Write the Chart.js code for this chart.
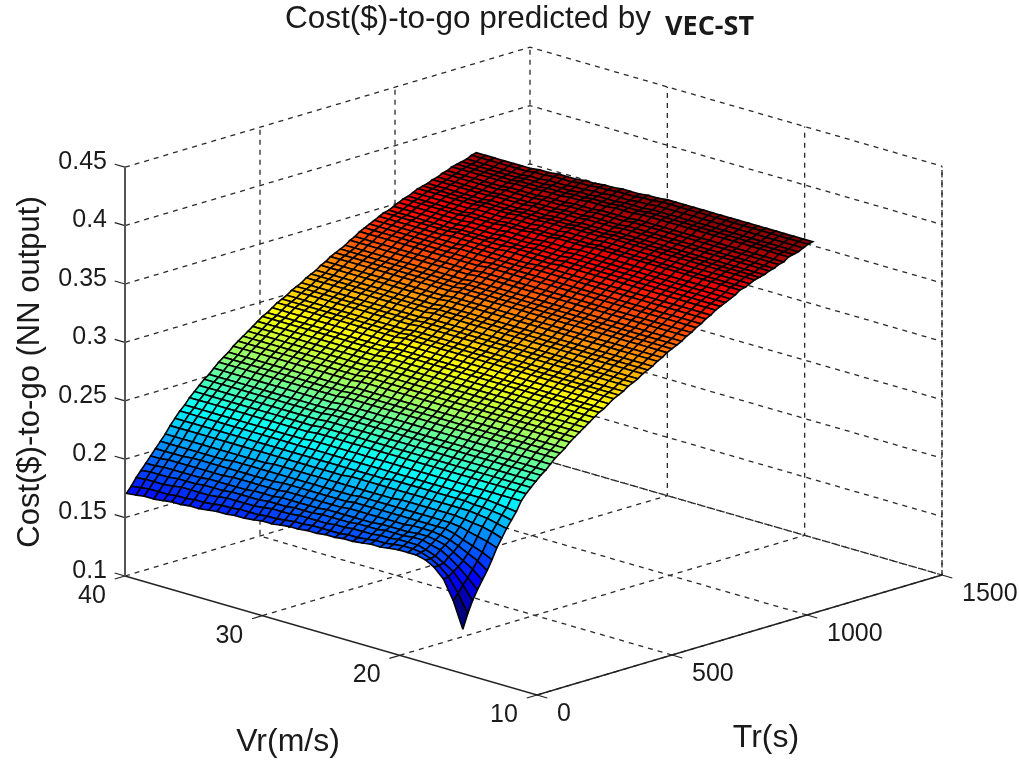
<!DOCTYPE html>
<html>
<head>
<meta charset="utf-8">
<style>
  html, body { margin: 0; padding: 0; background: #fff; }
  canvas { display: block; filter: blur(0.5px); }
</style>
<script src="https://cdn.jsdelivr.net/npm/chart.js@4/dist/chart.umd.min.js"></script>
</head>
<body>
<canvas id="chart" width="1019" height="761"></canvas>
<script>
const vrTicks = [40, 30, 20, 10];
const trTicks = [0, 500, 1000, 1500];
const zTicks = [0.1, 0.15, 0.2, 0.25, 0.3, 0.35, 0.4, 0.45];

const vrValues = [15.4,16.1,16.8,17.5,18.1,18.8,19.4,20.1,20.8,21.4,22.1,22.7,23.4,24.1,24.7,25.4,26,26.7,27.4,28,28.7,29.3,30,30.6,31.3,32,32.6,33.3,33.9,34.6,35.3,35.9,36.6,37.2,37.9,38.6,39.2,39.9];
const trValues = [0,18,36,54,72,90,108,126,144,162,180,198,216,234,252,270,288,306,324,342,360,378,396,414,432,450,468,486,504,522,540,558,576,594,612,630,648,666,684,702,720,738,756,774,792,810,828,846,864,882,900,918,936,954,972,990,1008,1026,1044,1062,1080,1098,1116,1134,1152,1170,1188,1206,1224,1242,1260,1278,1296];

// cost in thousandths, one row per Tr, one column per Vr
const costRows = [
[138,160,176,184,188,190,190,190,189,188,188,187,186,186,185,185,184,184,183,183,182,181,181,180,179,179,178,178,177,176,176,175,175,174,173,173,172,171],
[150,165,177,184,188,191,192,192,191,190,190,189,188,188,187,187,187,187,186,186,185,184,184,183,183,183,182,182,181,180,180,179,179,178,178,178,177,176],
[160,171,180,185,189,192,194,194,194,193,193,192,192,192,191,191,190,190,190,190,189,189,189,188,187,187,187,187,186,185,185,185,185,184,183,183,183,182],
[168,176,183,189,193,195,197,197,196,196,196,195,195,195,194,194,194,194,193,193,193,192,192,192,191,191,191,191,190,190,190,189,189,189,188,188,188,187],
[175,182,187,192,196,198,199,199,198,198,198,198,197,197,197,197,197,197,196,196,196,196,196,195,195,195,194,194,194,194,194,193,193,193,193,193,192,192],
[182,188,192,196,199,201,202,202,202,201,201,201,201,201,201,201,200,200,200,200,200,200,200,199,199,199,199,199,199,198,198,198,198,198,198,198,197,197],
[190,194,197,200,203,205,205,205,205,205,205,205,205,205,205,205,204,204,204,204,204,204,204,204,203,203,203,203,203,203,203,203,203,203,202,202,202,202],
[199,202,204,206,208,209,209,209,209,209,209,209,209,209,209,209,208,208,208,208,208,208,208,208,208,208,208,208,208,208,207,207,207,207,207,207,207,207],
[206,209,211,212,213,214,214,214,214,214,214,214,213,213,213,213,213,213,213,213,213,213,213,213,213,213,212,212,212,212,212,212,212,212,212,212,212,212],
[213,215,217,218,219,219,219,219,219,219,219,219,219,219,219,219,219,219,218,218,218,218,218,218,218,218,218,218,218,218,218,218,218,218,218,218,218,218],
[219,221,222,223,223,224,224,224,224,224,224,224,224,224,223,223,223,223,223,223,223,223,223,223,223,223,223,223,223,223,223,223,223,223,223,223,223,223],
[225,226,227,228,228,228,228,228,228,228,228,228,228,228,228,228,228,228,228,228,228,228,228,228,228,228,228,228,228,228,228,228,228,228,228,228,228,228],
[233,233,233,233,233,233,233,233,233,233,233,233,233,233,233,233,233,233,233,233,233,233,233,233,232,232,232,232,232,232,232,232,232,232,232,232,232,232],
[238,238,238,238,238,238,238,238,238,238,238,238,238,238,238,238,238,238,238,238,238,238,238,238,237,237,237,237,237,237,237,237,237,237,237,237,237,237],
[242,242,242,242,242,242,242,242,242,242,242,242,242,242,242,242,242,242,242,242,242,242,242,242,241,241,241,241,241,241,241,241,241,241,241,241,241,241],
[246,246,246,246,246,246,246,246,246,246,246,246,246,246,246,246,246,246,246,246,246,246,246,246,245,245,245,245,245,245,245,245,245,245,245,245,245,245],
[250,250,250,250,250,250,250,250,250,250,250,250,250,250,250,250,250,250,250,250,250,250,250,250,249,249,249,249,249,249,249,249,249,249,249,249,249,249],
[253,253,253,253,253,253,253,253,253,253,253,253,253,253,253,253,253,253,253,253,253,253,253,253,252,252,252,252,252,252,252,252,252,252,252,252,252,252],
[257,257,257,257,257,257,257,257,257,257,257,257,257,257,257,257,257,257,257,257,257,257,257,257,256,256,256,256,256,256,256,256,256,256,256,256,256,256],
[261,261,261,261,261,261,261,261,261,261,261,261,261,261,261,261,261,261,261,261,261,261,261,261,260,260,260,260,260,260,260,260,260,260,260,260,260,260],
[264,264,264,264,264,264,264,264,264,264,264,264,264,264,264,264,264,264,264,264,264,264,264,264,263,263,263,263,263,263,263,263,263,263,263,263,263,263],
[267,267,267,267,267,267,267,267,267,267,267,267,267,267,267,267,267,267,267,267,267,267,267,267,266,266,266,266,266,266,266,266,266,266,266,266,266,266],
[271,271,271,271,271,271,271,271,271,271,271,271,271,271,271,271,271,271,271,271,271,271,271,271,270,270,270,270,270,270,270,270,270,270,270,270,270,270],
[274,274,274,274,274,274,274,274,274,274,274,274,274,274,274,274,274,274,274,274,274,274,274,274,273,273,273,273,273,273,273,273,273,273,273,273,273,273],
[277,277,277,277,277,277,277,277,277,277,277,277,277,277,277,277,277,277,277,277,277,277,277,277,276,276,276,276,276,276,276,276,276,276,276,276,276,276],
[280,280,280,280,280,280,280,280,280,280,280,280,280,280,280,280,280,280,280,280,280,280,280,280,279,279,279,279,279,279,279,279,279,279,279,279,279,279],
[283,283,283,283,283,283,283,283,283,283,283,283,283,283,283,283,283,283,283,283,283,283,283,283,282,282,282,282,282,282,282,282,282,282,282,282,282,282],
[286,286,286,286,286,286,286,286,286,286,286,286,286,286,286,286,286,286,286,286,286,286,286,286,285,285,285,285,285,285,285,285,285,285,285,285,285,285],
[289,289,289,289,289,289,289,289,289,289,289,289,289,289,289,289,289,289,289,289,289,289,289,289,288,288,288,288,288,288,288,288,288,288,288,288,288,288],
[291,291,291,291,291,291,291,291,291,291,291,291,291,291,291,291,291,291,291,291,291,291,291,291,290,290,290,290,290,290,290,290,290,290,290,290,290,290],
[294,294,294,294,294,294,294,294,294,294,294,294,294,294,294,294,294,294,294,294,294,294,294,294,293,293,293,293,293,293,293,293,293,293,293,293,293,293],
[297,297,297,297,297,297,297,297,297,297,297,297,297,297,297,297,297,297,297,297,297,297,297,297,296,296,296,296,296,296,296,296,296,296,296,296,296,296],
[299,299,299,299,299,299,299,299,299,299,299,299,299,299,299,299,299,299,299,299,299,299,299,299,298,298,298,298,298,298,298,298,298,298,298,298,298,298],
[301,301,301,301,301,301,301,301,301,301,301,301,301,301,301,301,301,301,301,301,301,301,301,301,300,300,300,300,300,300,300,300,300,300,300,300,300,300],
[304,304,304,304,304,304,304,304,304,304,304,304,304,304,304,304,304,304,304,304,304,304,304,304,303,303,303,303,303,303,303,303,303,303,303,303,303,303],
[306,306,306,306,306,306,306,306,306,306,306,306,306,306,306,306,306,306,306,306,306,306,306,306,305,305,305,305,305,305,305,305,305,305,305,305,305,305],
[308,308,308,308,308,308,308,308,308,308,308,308,308,308,308,308,308,308,308,308,308,308,308,308,307,307,307,307,307,307,307,307,307,307,307,307,307,307],
[311,311,311,311,311,311,311,311,311,311,311,311,311,311,311,311,311,311,311,311,311,311,311,311,310,310,310,310,310,310,310,310,310,310,310,310,310,310],
[313,313,313,313,313,313,313,313,313,313,313,313,313,313,313,313,313,313,313,313,313,313,313,313,312,312,312,312,312,312,312,312,312,312,312,312,312,312],
[315,315,315,315,315,315,315,315,315,315,315,315,315,315,315,315,315,315,315,315,315,315,315,315,314,314,314,314,314,314,314,314,314,314,314,314,314,314],
[318,318,318,318,318,318,318,318,318,318,318,318,318,318,318,318,318,318,318,318,318,318,318,318,317,317,317,317,317,317,317,317,317,317,317,317,317,317],
[320,320,320,320,320,320,320,320,320,320,320,320,320,320,320,320,320,320,320,320,320,320,320,320,319,319,319,319,319,319,319,319,319,319,319,319,319,319],
[323,323,323,323,323,323,323,323,323,323,323,323,323,323,323,323,323,323,323,323,323,323,323,323,322,322,322,322,322,322,322,322,322,322,322,322,322,322],
[325,325,325,325,325,325,325,325,325,325,325,325,325,325,325,325,325,325,325,325,325,325,325,325,324,324,324,324,324,324,324,324,324,324,324,324,324,324],
[327,327,327,327,327,327,327,327,327,327,327,327,327,327,327,327,327,327,327,327,327,327,327,327,326,326,326,326,326,326,326,326,326,326,326,326,326,326],
[329,329,329,329,329,329,329,329,329,329,329,329,329,329,329,329,329,329,329,329,329,329,329,329,328,328,328,328,328,328,328,328,328,328,328,328,328,328],
[332,332,332,332,332,332,332,332,332,332,332,332,332,332,332,332,332,332,332,332,332,332,332,332,331,331,331,331,331,331,331,331,331,331,331,331,331,331],
[334,334,334,334,334,334,334,334,334,334,334,334,334,334,334,334,334,334,334,334,334,334,334,334,333,333,333,333,333,333,333,333,333,333,333,333,333,333],
[337,337,337,337,337,337,337,337,337,337,337,337,337,337,337,337,337,337,337,337,337,337,337,337,336,336,336,336,336,336,336,336,336,336,336,336,336,336],
[339,339,339,339,339,339,339,339,339,339,339,339,339,339,339,339,339,339,339,339,339,339,339,339,338,338,338,338,338,338,338,338,338,338,338,338,338,338],
[342,342,342,342,342,342,342,342,342,342,342,342,342,342,342,342,342,342,342,342,341,341,341,341,341,341,341,341,340,340,340,340,340,340,340,340,340,340],
[344,344,344,344,344,344,344,344,344,344,344,344,344,344,344,344,344,344,344,344,343,343,343,343,343,343,343,343,342,342,342,342,342,342,342,342,342,342],
[347,347,347,347,347,347,347,347,347,347,347,347,347,347,347,347,347,347,346,346,346,346,346,346,345,345,345,345,345,345,344,344,344,344,344,344,344,344],
[349,349,349,349,349,349,349,349,349,349,349,349,349,349,349,349,349,349,348,348,348,348,348,348,347,347,347,347,347,347,346,346,346,346,346,346,346,346],
[351,351,351,351,351,351,351,351,351,351,351,351,351,351,351,351,351,351,350,350,350,350,349,349,349,349,348,348,348,348,347,347,347,347,347,347,347,347],
[353,353,353,353,353,353,353,353,353,353,353,353,353,353,353,353,353,353,352,352,352,352,351,351,351,351,350,350,350,350,349,349,349,349,349,349,349,349],
[355,355,355,355,355,355,355,355,355,355,355,355,355,355,355,355,355,355,354,354,354,354,353,353,353,353,352,352,352,352,351,351,351,351,351,351,351,351],
[358,358,358,358,358,358,358,358,358,358,358,358,358,358,358,358,358,357,357,357,357,356,356,356,355,355,355,354,354,354,354,353,353,353,353,353,353,353],
[359,359,359,359,359,359,359,359,359,359,359,359,359,359,359,359,359,358,358,358,358,357,357,357,356,356,356,355,355,355,355,354,354,354,354,354,354,354],
[361,361,361,361,361,361,361,361,361,361,361,361,361,361,361,361,361,360,360,360,360,359,359,359,358,358,358,357,357,357,357,356,356,356,356,356,356,356],
[363,363,363,363,363,363,363,363,363,363,363,363,363,363,363,363,363,362,362,362,362,361,361,361,360,360,360,359,359,359,359,358,358,358,358,358,358,358],
[364,364,364,364,364,364,364,364,364,364,364,364,364,364,364,364,364,363,363,363,363,362,362,362,361,361,361,360,360,360,360,359,359,359,359,359,359,359],
[365,365,365,365,365,365,365,365,365,365,365,365,365,365,365,365,365,364,364,364,364,363,363,363,362,362,362,361,361,361,361,360,360,360,360,360,360,360],
[367,367,367,367,367,367,367,367,367,367,367,367,367,367,367,367,367,366,366,366,366,365,365,365,364,364,364,363,363,363,363,362,362,362,362,362,362,362],
[368,368,368,368,368,368,368,368,368,368,368,368,368,368,368,368,368,367,367,367,367,366,366,366,365,365,365,364,364,364,364,363,363,363,363,363,363,363],
[370,370,370,370,370,370,370,370,370,370,370,370,370,370,370,370,370,369,369,369,369,368,368,368,367,367,367,366,366,366,366,365,365,365,365,365,365,365],
[371,371,371,371,371,371,371,371,371,371,371,371,371,371,371,371,371,370,370,370,370,369,369,369,368,368,368,367,367,367,367,366,366,366,366,366,366,366],
[374,374,374,374,374,374,374,374,374,374,374,374,374,374,374,374,374,373,373,373,372,372,372,371,371,370,370,370,369,369,369,368,368,368,368,368,368,368],
[375,375,375,375,375,375,375,375,375,375,375,375,375,375,375,375,375,374,374,374,373,373,373,372,372,371,371,371,370,370,370,369,369,369,369,369,369,369],
[376,376,376,376,376,376,376,376,376,376,376,376,376,376,376,376,376,375,375,375,374,374,374,373,373,372,372,372,371,371,371,370,370,370,370,370,370,370],
[378,378,378,378,378,378,378,378,378,378,378,378,378,378,378,378,378,377,377,376,376,376,375,375,374,374,373,373,373,372,372,371,371,371,371,371,371,371],
[380,380,380,380,380,380,380,380,380,380,380,380,380,380,380,380,380,379,379,378,378,378,377,377,376,376,375,375,375,374,374,373,373,373,373,373,373,373],
[381,381,381,381,381,381,381,381,381,381,381,381,381,381,381,381,381,380,380,379,379,379,378,378,377,377,376,376,376,375,375,374,374,374,374,374,374,374]
];

// view of the 3d box on the page
const origin = { x: 537, y: 695 };
const trStep = { x: 405 / 1500, y: -120 / 1500 };
const vrStep = { x: -412 / 30, y: -119 / 30 };
const zStep = -1168;

function project(vr, tr, z) {
    return {
        x: origin.x + tr * trStep.x + (vr - 10) * vrStep.x,
        y: origin.y + tr * trStep.y + (vr - 10) * vrStep.y + (z - 0.1) * zStep
    };
}

function jet(t) {
    const c = v => Math.round(255 * Math.max(0, Math.min(1, 1.5 - Math.abs(4 * t - v))));
    return `rgb(${c(3)},${c(2)},${c(1)})`;
}

const allCost = costRows.flat();
const costMin = Math.min(...allCost);
const costMax = Math.max(...allCost);

const datasets = [];

function addLine(points, color, width, dash) {
    datasets.push({
        data: points,
        borderColor: color,
        borderWidth: width,
        borderDash: dash,
        backgroundColor: 'transparent',
        fill: false,
        pointRadius: 0,
        tension: 0,
        clip: false
    });
}

// solid axes and tick marks go on top
const axisColor = '#222';
addLine([project(40, 0, 0.1), project(40, 0, 0.45)], '#555', 2, []);
addLine([project(40, 0, 0.1), project(10, 0, 0.1), project(10, 1500, 0.1)], axisColor, 1.4, []);
zTicks.forEach(z => addLine([project(40, 0, z), project(40.75, 0, z)], axisColor, 1.2, []));
vrTicks.forEach(v => addLine([project(v, 0, 0.1), project(v, -38, 0.1)], axisColor, 1.2, []));
trTicks.forEach(t => addLine([project(10, t, 0.1), project(9.25, t, 0.1)], axisColor, 1.2, []));

// surface cells, front cells first because the first dataset is painted last
for (let i = 0; i < trValues.length - 1; i++) {
    for (let j = 0; j < vrValues.length - 1; j++) {
        const c = [[i, j], [i + 1, j], [i + 1, j + 1], [i, j + 1], [i, j]];
        const pts = c.map(([a, b]) => project(vrValues[b], trValues[a], costRows[a][b] / 1000));
        datasets.push({
            data: pts,
            borderColor: '#000',
            borderWidth: 1.6,
            backgroundColor: jet((costRows[i][j] - costMin) / (costMax - costMin)),
            fill: 'shape',
            pointRadius: 0,
            tension: 0,
            clip: false
        });
    }
}

// dashed grid on the floor and the two back walls
const gridColor = '#2a2a2a';
const gridDash = [5, 5];
zTicks.forEach(z => {
    addLine([project(40, 0, z), project(40, 1500, z), project(10, 1500, z)], gridColor, 1.3, gridDash);
});
trTicks.slice(1).forEach(t => {
    addLine([project(10, t, 0.1), project(40, t, 0.1), project(40, t, 0.45)], gridColor, 1.3, gridDash);
});
vrTicks.slice(1).forEach(v => {
    addLine([project(v, 0, 0.1), project(v, 1500, 0.1), project(v, 1500, 0.45)], gridColor, 1.3, gridDash);
});
addLine([project(10, 1500, 0.1), project(10, 1500, 0.45)], gridColor, 1.3, gridDash);

const textColor = '#1a1a1a';
const labelFont = '25px "Liberation Sans"';
const bigFont = '32px "Liberation Sans"';

const textPlugin = {
    id: 'boxText',
    afterDraw(chart) {
        const { ctx, scales } = chart;
        const put = (text, p, dx, dy, align, font) => {
            ctx.font = font;
            ctx.textAlign = align;
            ctx.fillText(text, scales.x.getPixelForValue(p.x) + dx, scales.y.getPixelForValue(p.y) + dy);
        };
        ctx.save();
        ctx.fillStyle = textColor;
        ctx.textBaseline = 'middle';
        zTicks.forEach(z => put(String(z), project(40, 0, z), -18, -5, 'right', labelFont));
        vrTicks.forEach(v => put(String(v), project(v, 0, 0.1), -33, 20, 'center', labelFont));
        trTicks.forEach(t => put(String(t), project(10, t, 0.1), 20, 19, 'left', labelFont));
        ctx.font = bigFont;
        ctx.textAlign = 'center';
        ctx.fillText('Vr(m/s)', 288, 742);
        ctx.fillText('Tr(s)', 766, 738);
        ctx.textAlign = 'left';
        ctx.font = '31.5px "Liberation Sans"';
        ctx.fillText('Cost($)-to-go predicted by', 285, 19);
        ctx.font = 'bold 27px "Open Sans"';
        ctx.fillText('VEC-ST', 665, 27);
        ctx.save();
        ctx.translate(30, 372);
        ctx.rotate(-Math.PI / 2);
        ctx.textAlign = 'center';
        ctx.font = '31px "Liberation Sans"';
        ctx.fillText('Cost($)-to-go (NN output)', 0, 0);
        ctx.restore();
        ctx.restore();
    }
};

new Chart(document.getElementById('chart'), {
    type: 'line',
    data: { datasets },
    options: {
        responsive: false,
        animation: false,
        events: [],
        layout: { padding: 0 },
        plugins: { legend: { display: false }, tooltip: { enabled: false }, title: { display: false } },
        scales: {
            x: { type: 'linear', min: 0, max: 1019, display: false },
            y: { type: 'linear', min: 0, max: 761, reverse: true, display: false }
        }
    },
    plugins: [textPlugin]
});
</script>
</body>
</html>
